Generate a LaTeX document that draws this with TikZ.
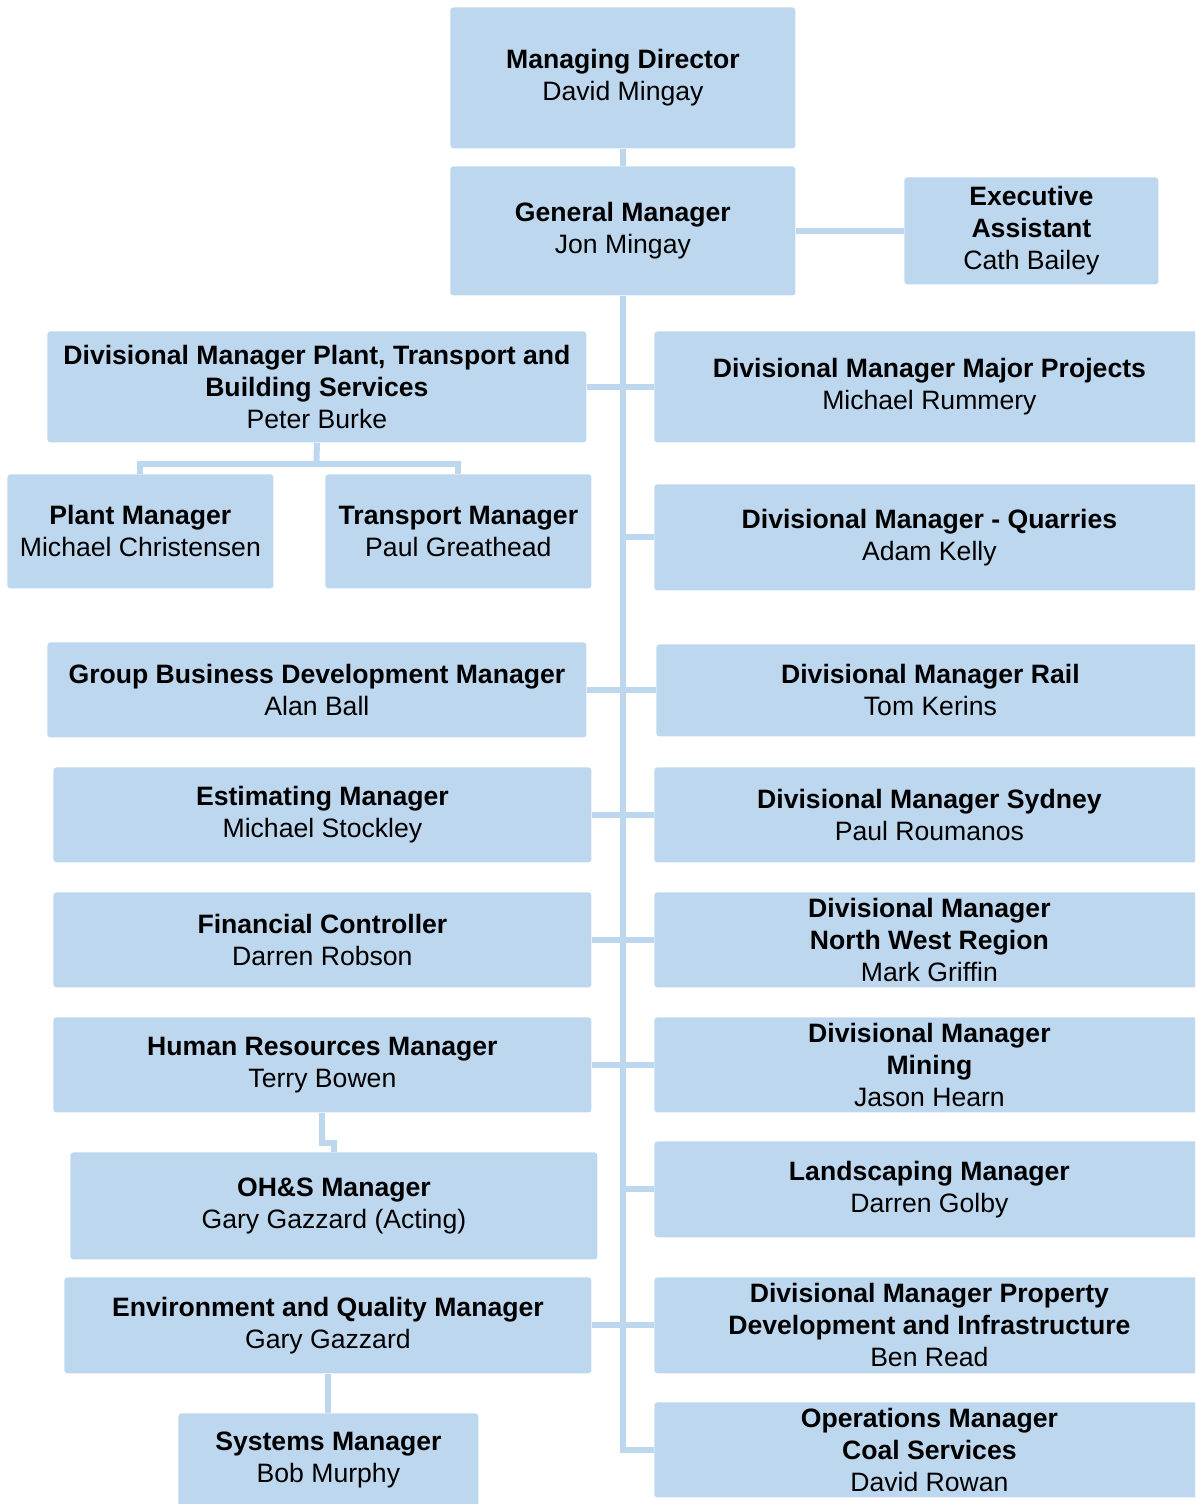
\documentclass[tikz,border=0pt]{standalone}
\usepackage{fontspec}
\setmainfont{Liberation Sans}
\definecolor{boxc}{RGB}{189,215,238}
\tikzset{
  box/.style={fill=boxc, draw=none, rounded corners=1.5pt, inner sep=0pt, align=center,
    font=\fontsize{13.3}{16}\selectfont, text=black},
  conn/.style={draw=boxc, line width=3pt}
}
\newcommand\orgbox[6]{%
  \pgfmathsetmacro\bw{(#4-#2)*0.5}%
  \pgfmathsetmacro\bh{(#5-#3)*0.5}%
  \node[box, minimum width=\bw pt, minimum height=\bh pt, anchor=north west] (#1) at (#2,#3) {#6};}
\begin{document}
\begin{tikzpicture}[x=0.5pt,y=-0.5pt]
\useasboundingbox (0,0) rectangle (1195,1504);
\clip (0,0) rectangle (1195,1504);
% top
\orgbox{md}{450}{7}{795}{148}{\textbf{Managing Director}\\David Mingay}
\orgbox{gm}{450}{166}{795}{295}{\textbf{General Manager}\\Jon Mingay}
\orgbox{ea}{904}{177}{1158}{284}{\textbf{Executive}\\\textbf{Assistant}\\Cath Bailey}
% left column
\orgbox{dmp}{47}{331}{586}{442}{\textbf{Divisional Manager Plant, Transport and}\\\textbf{Building Services}\\Peter Burke}
\orgbox{pm}{7}{474}{273}{588}{\textbf{Plant Manager}\\Michael Christensen}
\orgbox{tm}{325}{474}{591}{588}{\textbf{Transport Manager}\\Paul Greathead}
\orgbox{gbd}{47}{642}{586}{737}{\textbf{Group Business Development Manager}\\Alan Ball}
\orgbox{est}{53}{767}{591}{862}{\textbf{Estimating Manager}\\Michael Stockley}
\orgbox{fc}{53}{892}{591}{987}{\textbf{Financial Controller}\\Darren Robson}
\orgbox{hr}{53}{1017}{591}{1112}{\textbf{Human Resources Manager}\\Terry Bowen}
\orgbox{ohs}{70}{1152}{597}{1259}{\textbf{OH\&S Manager}\\Gary Gazzard (Acting)}
\orgbox{env}{64}{1277}{591}{1373}{\textbf{Environment and Quality Manager}\\Gary Gazzard}
\orgbox{sys}{178}{1413}{478}{1507}{\textbf{Systems Manager}\\Bob Murphy}
% right column
\orgbox{dmmp}{654}{331}{1204}{442}{\textbf{Divisional Manager Major Projects}\\Michael Rummery}
\orgbox{dmq}{654}{484}{1204}{590}{\textbf{Divisional Manager - Quarries}\\Adam Kelly}
\orgbox{dmr}{656}{644}{1204}{736}{\textbf{Divisional Manager Rail}\\Tom Kerins}
\orgbox{dms}{654}{767}{1204}{862}{\textbf{Divisional Manager Sydney}\\Paul Roumanos}
\orgbox{dmnw}{654}{892}{1204}{987}{\textbf{Divisional Manager}\\\textbf{North West Region}\\Mark Griffin}
\orgbox{dmm}{654}{1017}{1204}{1112}{\textbf{Divisional Manager}\\\textbf{Mining}\\Jason Hearn}
\orgbox{lm}{654}{1141}{1204}{1237}{\textbf{Landscaping Manager}\\Darren Golby}
\orgbox{dmpd}{654}{1277}{1204}{1373}{\textbf{Divisional Manager Property}\\\textbf{Development and Infrastructure}\\Ben Read}
\orgbox{ops}{654}{1402}{1204}{1497}{\textbf{Operations Manager}\\\textbf{Coal Services}\\David Rowan}
% connectors
\draw[conn] (md.south) -- (gm.north);
\draw[conn] (gm.east) -- (gm.east -| ea.west);
\draw[conn] (gm.south) |- (ops.west);
\draw[conn] (dmp.east) -- (dmp.east -| dmmp.west);
\draw[conn] (dmq.west) -- (dmq.west -| gm.south);
\draw[conn] (gbd.east) -- (gbd.east -| dmr.west);
\draw[conn] (est.east) -- (est.east -| dms.west);
\draw[conn] (fc.east) -- (fc.east -| dmnw.west);
\draw[conn] (hr.east) -- (hr.east -| dmm.west);
\draw[conn] (lm.west) -- (lm.west -| gm.south);
\draw[conn] (env.east) -- (env.east -| dmpd.west);
\coordinate (pj) at (316.5,464);
\draw[conn] (dmp.south) -- (pj);
\draw[conn] (pm.north) |- (pj) -| (tm.north);
\draw[conn] (hr.south) -- ++(0,30) -| (ohs.north);
\draw[conn] (env.south) -- (env.south |- sys.north);
\end{tikzpicture}
\end{document}
